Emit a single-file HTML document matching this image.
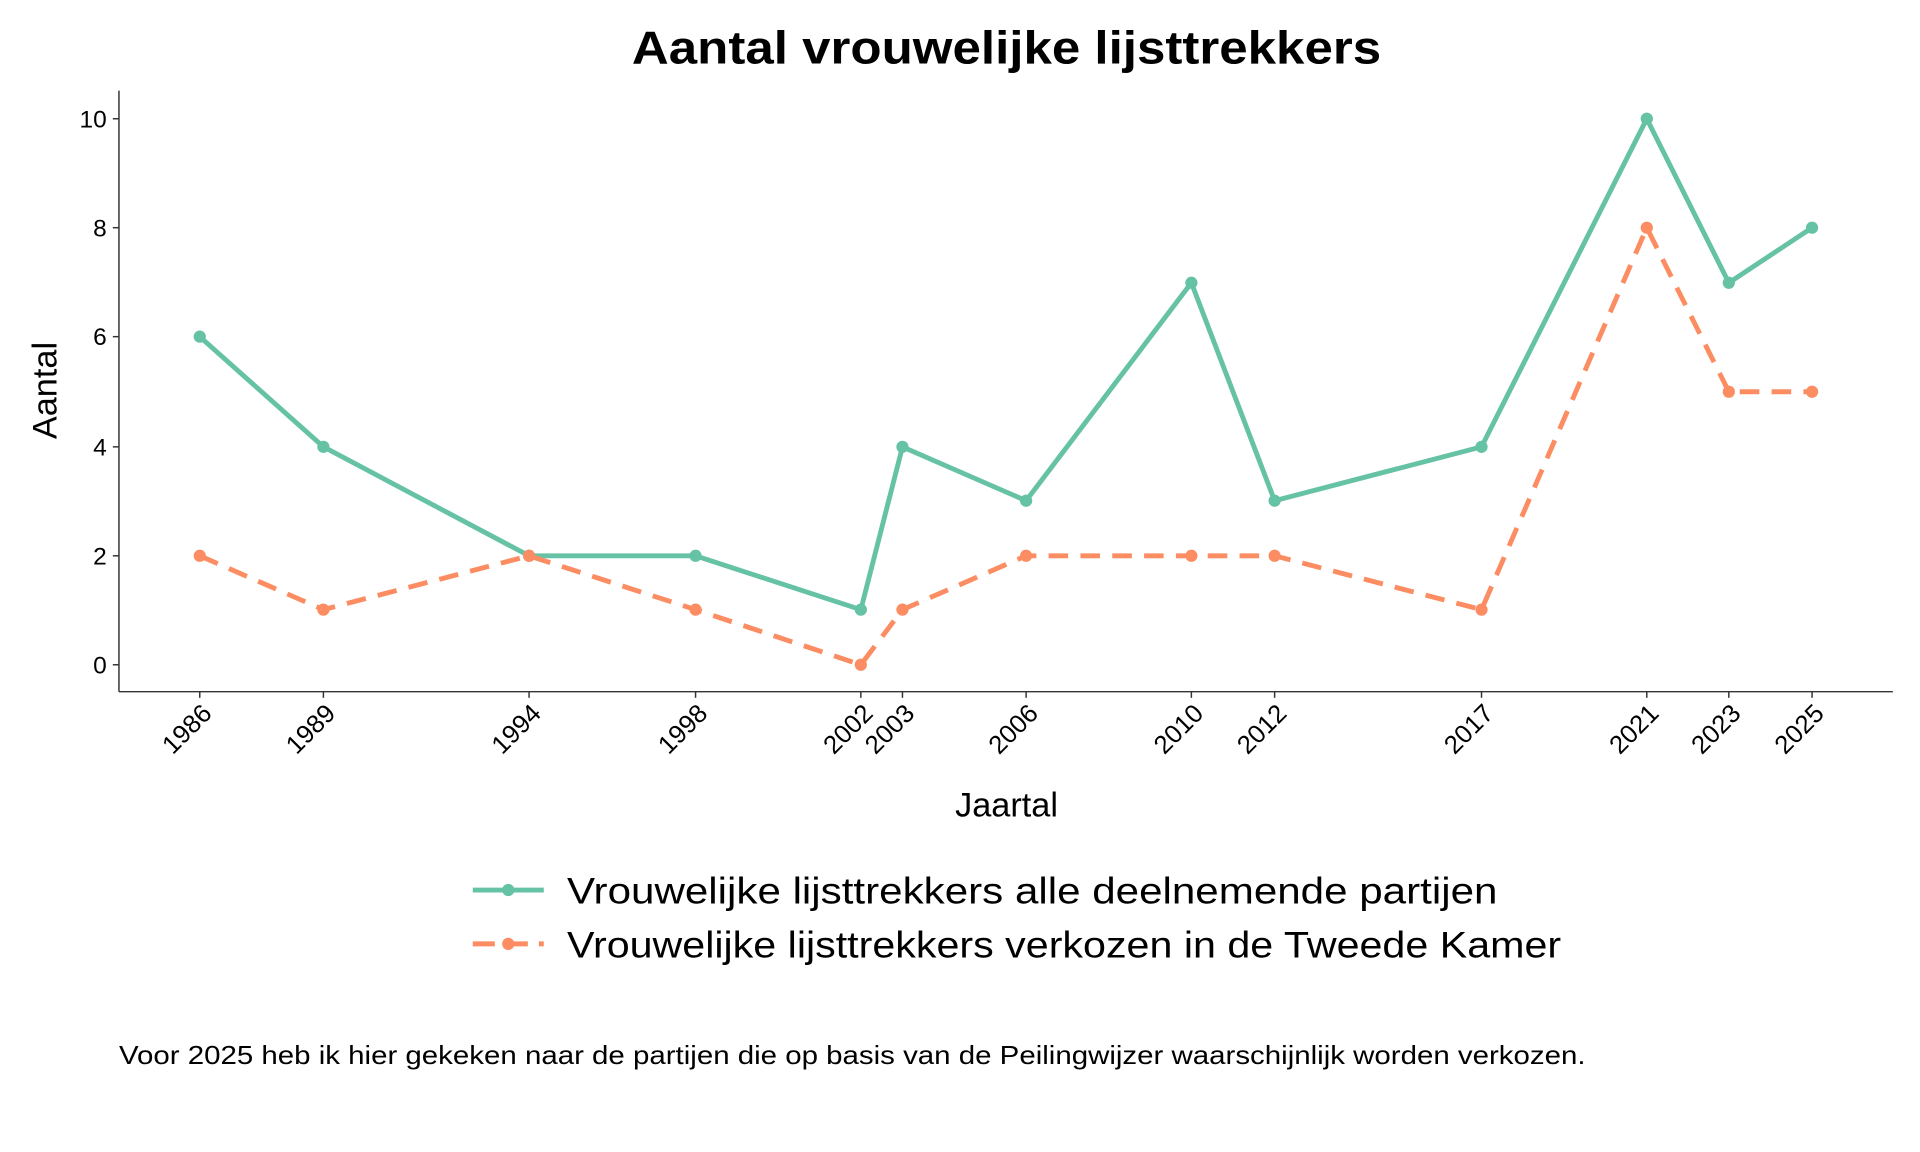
<!DOCTYPE html>
<html><head><meta charset="utf-8"><style>
html,body{margin:0;padding:0;background:#fff}
svg{display:block}
text{font-family:"Liberation Sans",sans-serif;fill:#000}
</style></head><body>
<svg width="1920" height="1152" viewBox="0 0 1568 941" xmlns="http://www.w3.org/2000/svg">
<text x="822" y="52" text-anchor="middle" font-size="38" font-weight="bold" textLength="612" lengthAdjust="spacingAndGlyphs">Aantal vrouwelijke lijsttrekkers</text>
<line x1="97" y1="74" x2="97" y2="565" stroke="#333" stroke-width="1.2"/>
<line x1="97" y1="565" x2="1546" y2="565" stroke="#333" stroke-width="1.2"/>
<g font-size="20" text-anchor="end">
<text x="87" y="550">0</text><text x="87" y="461">2</text><text x="87" y="372">4</text><text x="87" y="282">6</text><text x="87" y="193">8</text><text x="87" y="104">10</text>
</g>
<g stroke="#333" stroke-width="1.2">
<line x1="92" y1="543" x2="97" y2="543"/><line x1="92" y1="454" x2="97" y2="454"/><line x1="92" y1="365" x2="97" y2="365"/><line x1="92" y1="275" x2="97" y2="275"/><line x1="92" y1="186" x2="97" y2="186"/><line x1="92" y1="97" x2="97" y2="97"/>
<line x1="163" y1="565" x2="163" y2="570"/><line x1="264" y1="565" x2="264" y2="570"/><line x1="432" y1="565" x2="432" y2="570"/><line x1="568" y1="565" x2="568" y2="570"/><line x1="703" y1="565" x2="703" y2="570"/><line x1="737" y1="565" x2="737" y2="570"/><line x1="838" y1="565" x2="838" y2="570"/><line x1="973" y1="565" x2="973" y2="570"/><line x1="1041" y1="565" x2="1041" y2="570"/><line x1="1210" y1="565" x2="1210" y2="570"/><line x1="1345" y1="565" x2="1345" y2="570"/><line x1="1412" y1="565" x2="1412" y2="570"/><line x1="1480" y1="565" x2="1480" y2="570"/>
</g>
<g font-size="21" text-anchor="end">
<text transform="translate(174,584) rotate(-45)">1986</text>
<text transform="translate(275,584) rotate(-45)">1989</text>
<text transform="translate(443,584) rotate(-45)">1994</text>
<text transform="translate(579,584) rotate(-45)">1998</text>
<text transform="translate(714,584) rotate(-45)">2002</text>
<text transform="translate(748,584) rotate(-45)">2003</text>
<text transform="translate(849,584) rotate(-45)">2006</text>
<text transform="translate(984,584) rotate(-45)">2010</text>
<text transform="translate(1052,584) rotate(-45)">2012</text>
<text transform="translate(1221,584) rotate(-45)">2017</text>
<text transform="translate(1356,584) rotate(-45)">2021</text>
<text transform="translate(1423,584) rotate(-45)">2023</text>
<text transform="translate(1491,584) rotate(-45)">2025</text>
</g>
<text x="822" y="667" text-anchor="middle" font-size="28">Jaartal</text>
<text transform="translate(46,319) rotate(-90)" text-anchor="middle" font-size="28">Aantal</text>
<polyline fill="none" stroke="#66c2a5" stroke-width="4" points="163,275 264,365 432,454 568,454 703,498 737,365 838,409 973,231 1041,409 1210,365 1345,97 1412,231 1480,186"/>
<polyline fill="none" stroke="#fc8d62" stroke-width="4" stroke-dasharray="16,10" points="163,454 264,498 432,454 568,498 703,543 737,498 838,454 973,454 1041,454 1210,498 1345,186 1412,320 1480,320"/>
<g fill="#66c2a5">
<circle cx="163" cy="275" r="5"/><circle cx="264" cy="365" r="5"/><circle cx="432" cy="454" r="5"/><circle cx="568" cy="454" r="5"/><circle cx="703" cy="498" r="5"/><circle cx="737" cy="365" r="5"/><circle cx="838" cy="409" r="5"/><circle cx="973" cy="231" r="5"/><circle cx="1041" cy="409" r="5"/><circle cx="1210" cy="365" r="5"/><circle cx="1345" cy="97" r="5"/><circle cx="1412" cy="231" r="5"/><circle cx="1480" cy="186" r="5"/>
</g>
<g fill="#fc8d62">
<circle cx="163" cy="454" r="5"/><circle cx="264" cy="498" r="5"/><circle cx="432" cy="454" r="5"/><circle cx="568" cy="498" r="5"/><circle cx="703" cy="543" r="5"/><circle cx="737" cy="498" r="5"/><circle cx="838" cy="454" r="5"/><circle cx="973" cy="454" r="5"/><circle cx="1041" cy="454" r="5"/><circle cx="1210" cy="498" r="5"/><circle cx="1345" cy="186" r="5"/><circle cx="1412" cy="320" r="5"/><circle cx="1480" cy="320" r="5"/>
</g>
<line x1="386" y1="727" x2="444" y2="727" stroke="#66c2a5" stroke-width="4"/><circle cx="415" cy="727" r="5" fill="#66c2a5"/>
<line x1="386" y1="771" x2="444" y2="771" stroke="#fc8d62" stroke-width="4" stroke-dasharray="18,9"/><circle cx="415" cy="771" r="5" fill="#fc8d62"/>
<text x="463" y="738" font-size="30" textLength="760" lengthAdjust="spacingAndGlyphs">Vrouwelijke lijsttrekkers alle deelnemende partijen</text>
<text x="463" y="782" font-size="30" textLength="812" lengthAdjust="spacingAndGlyphs">Vrouwelijke lijsttrekkers verkozen in de Tweede Kamer</text>
<text x="97" y="869" font-size="21" textLength="1198" lengthAdjust="spacingAndGlyphs">Voor 2025 heb ik hier gekeken naar de partijen die op basis van de Peilingwijzer  waarschijnlijk worden verkozen.</text>
</svg>
</body></html>
